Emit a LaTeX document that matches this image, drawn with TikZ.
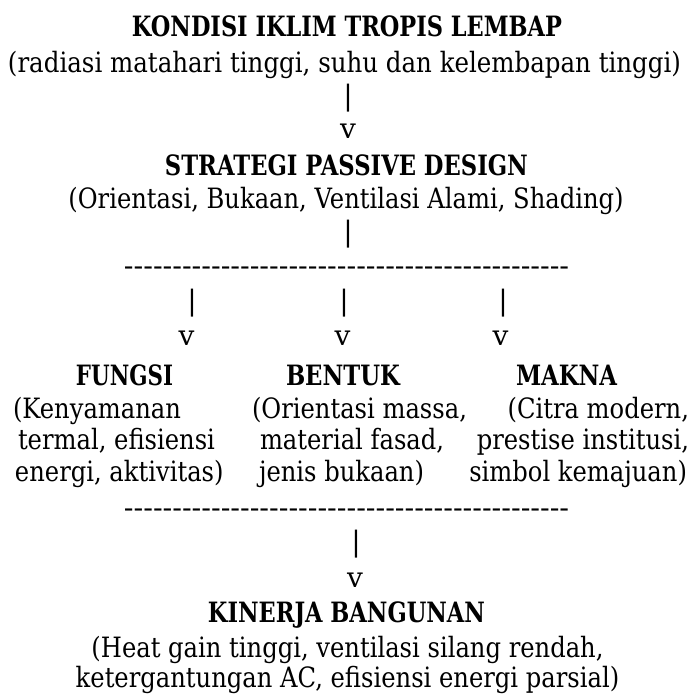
\documentclass[tikz,border=0pt]{standalone}
\usepackage{fontspec}
\usepackage{graphicx}
\setmainfont{DejaVu Serif}
\newcommand\xsc{0.865}
\newcommand\sx[1]{\scalebox{\xsc}[1]{#1}}
\newcommand\hy{\mbox{-}}
\newcommand\hyten{\hy\hy\hy\hy\hy\hy\hy\hy\hy\hy}
\newcommand\dashrow{\hyten\hyten\hyten\hyten\hy\hy\hy\hy\hy\hy}
\tikzset{
  txt/.style={anchor=base, inner sep=0pt, outer sep=0pt, font=\fontsize{28pt}{34pt}\selectfont},
  hd/.style={txt, font=\fontsize{28pt}{34pt}\selectfont\bfseries},
  sym/.style={anchor=center, inner sep=0pt, outer sep=0pt, font=\fontsize{28pt}{34pt}\selectfont},
}
\begin{document}
\begin{tikzpicture}[x=1pt,y=1pt]
\useasboundingbox (0,0) rectangle (694,-694);
\fill[white] (0,0) rectangle (694,-694);
% top block
\node[hd] (kondisi) at (347,-36) {\resizebox{430pt}{\height}{KONDISI IKLIM TROPIS LEMBAP}};
\node[txt] (kondisiT) at (344.5,-72) {\resizebox{673pt}{\height}{(radiasi matahari tinggi, suhu dan kelembapan tinggi)}};
\node[sym] (p1) at (348,-98.5) {|};
\node[sym] (v1) at (348,-131) {v};
\node[hd] (strategi) at (346.5,-175) {\resizebox{363pt}{\height}{STRATEGI PASSIVE DESIGN}};
\node[txt] (strategiT) at (346,-208) {\sx{(Orientasi, Bukaan, Ventilasi Alami, Shading)}};
\node[sym] (p2) at (348,-234) {|};
\node[txt] (d1) at (346.5,-275.6) {\resizebox{445pt}{\height}{\dashrow}};
% three branches
\node[sym] (p3a) at (192,-303.5) {|};
\node[sym] (p3b) at (344,-303.5) {|};
\node[sym] (p3c) at (503,-303.5) {|};
\node[sym] (v3a) at (186.5,-338) {v};
\node[sym] (v3b) at (342.5,-338) {v};
\node[sym] (v3c) at (500.5,-338) {v};
\node[hd] (fungsi) at (124.5,-385) {\resizebox{97pt}{\height}{FUNGSI}};
\node[hd] (bentuk) at (343,-385) {\resizebox{114pt}{\height}{BENTUK}};
\node[hd] (makna) at (566.5,-385) {\resizebox{101pt}{\height}{MAKNA}};
\node[txt,anchor=base west] (fa) at (13,-418.5) {\sx{(Kenyamanan}};
\node[txt,anchor=base west] (fb) at (18,-449) {\sx{termal, efisiensi}};
\node[txt,anchor=base west] (fc) at (15,-481.5) {\sx{energi, aktivitas)}};
\node[txt,anchor=base west] (ba) at (252,-418.5) {\sx{(Orientasi massa,}};
\node[txt,anchor=base west] (bb) at (260,-449) {\sx{material fasad,}};
\node[txt,anchor=base west] (bc) at (259,-481.5) {\sx{jenis bukaan)}};
\node[txt,anchor=base east] (ma) at (689,-418.5) {\sx{(Citra modern,}};
\node[txt,anchor=base east] (mb) at (689,-449) {\sx{prestise institusi,}};
\node[txt,anchor=base east] (mc) at (687,-481.5) {\sx{simbol kemajuan)}};
\node[txt] (d2) at (346.5,-517.6) {\resizebox{445pt}{\height}{\dashrow}};
% bottom block
\node[sym] (p4) at (356,-544.5) {|};
\node[sym] (v4) at (355,-580.5) {v};
\node[hd] (kinerja) at (346.5,-622) {\resizebox{277pt}{\height}{KINERJA BANGUNAN}};
\node[txt] (kinerjaA) at (347.5,-657) {\sx{(Heat gain tinggi, ventilasi silang rendah,}};
\node[txt] (kinerjaB) at (347.5,-687) {\sx{ketergantungan AC, efisiensi energi parsial)}};
\end{tikzpicture}
\end{document}
